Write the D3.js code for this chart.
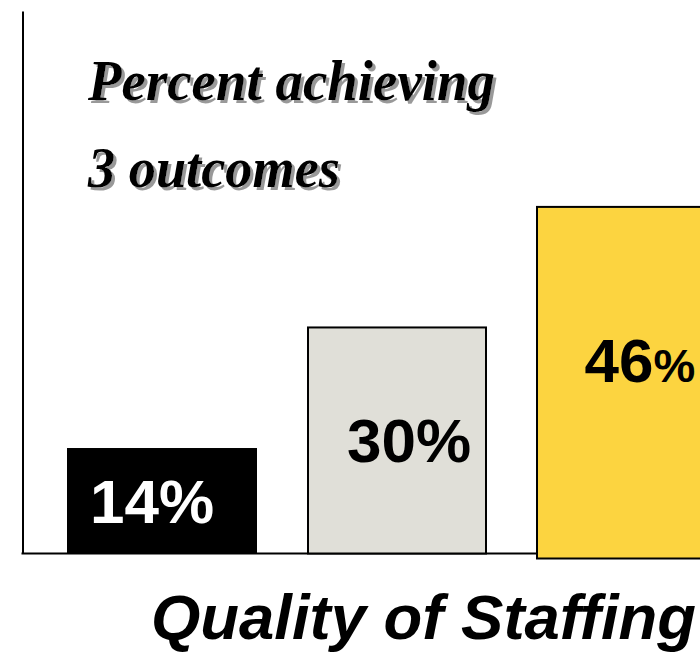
<!DOCTYPE html>
<html><head><meta charset="utf-8">
<script src="https://cdn.jsdelivr.net/npm/d3@7"></script>
<style>html,body{margin:0;padding:0;background:#fff;overflow:hidden}</style>
</head><body>
<script>
const categories = ["Low", "Medium", "High"];
const values = [14, 30, 46];
const valueLabels = ["14%", "30%", "46%"];
const titleLines = ["Percent achieving", "3 outcomes"];
const xTitle = "Quality of Staffing";

const W = 700, H = 653;
const fills = ["#000000", "#e0dfd8", "#fcd440"];
const labelColors = ["#ffffff", "#000000", "#000000"];

const svg = d3.select("body").append("svg").attr("width", W).attr("height", H);

const defs = svg.append("defs");
defs.append("filter").attr("id", "shadow").attr("x", "-5%").attr("y", "-20%").attr("width", "115%").attr("height", "150%")
  .append("feDropShadow").attr("dx", 3).attr("dy", 3).attr("stdDeviation", 0.6)
  .attr("flood-color", "#999").attr("flood-opacity", 1);

const axisX = 22.5, baseY = 553.5;
const y = d3.scaleLinear().domain([0, 72]).range([baseY, 11]);
const x = d3.scaleBand().domain(categories).range([67, 727]).paddingInner(0.1915).paddingOuter(0);

// vertical axis
const yAxis = d3.axisLeft(y).tickValues([]).tickSizeOuter(0);
svg.append("g").attr("transform", `translate(${axisX},0)`).call(yAxis)
  .call(g => g.select(".domain").attr("stroke", "#000").attr("stroke-width", 2));

// baseline
svg.append("line").attr("x1", axisX - 1).attr("x2", W).attr("y1", baseY).attr("y2", baseY)
  .attr("stroke", "#000").attr("stroke-width", 2);

// bars
const inset = [0, 6, 0];
svg.append("g").selectAll("rect").data(values).join("rect")
  .attr("x", (d, i) => x(categories[i]) + inset[i])
  .attr("y", d => y(d))
  .attr("width", (d, i) => x.bandwidth() - 2 * inset[i])
  .attr("height", (d, i) => baseY - y(d) + (i === 2 ? 5 : 0))
  .attr("fill", (d, i) => fills[i])
  .attr("stroke", "#000")
  .attr("stroke-width", (d, i) => i === 0 ? 0 : 2);

// value labels
const lbl = svg.append("g").selectAll("text").data(values).join("text")
  .attr("x", (d, i) => x(categories[i]) + x.bandwidth() / 2 + [-10, 12, 8][i])
  .attr("y", (d, i) => y(d / 2) + 22 + [0, 0, -20][i])
  .attr("text-anchor", "middle")
  .attr("font-family", "Liberation Sans, Arial, sans-serif")
  .attr("font-weight", "bold")
  .attr("font-size", 62)
  .attr("fill", (d, i) => labelColors[i]);
lbl.each(function(d, i) {
  const t = d3.select(this);
  t.append("tspan").text(valueLabels[i].replace("%", ""));
  t.append("tspan").attr("font-size", i === 2 ? 47 : 62).text("%");
});

// title with shadow
const titleX = 88, titleY = [100, 187], titleW = [407, 252];
titleLines.forEach((t, i) => {
  svg.append("text")
    .attr("x", titleX).attr("y", titleY[i])
    .attr("font-family", "Liberation Serif, serif")
    .attr("font-style", "italic").attr("font-weight", "bold")
    .attr("font-size", 56)
    .attr("textLength", titleW[i]).attr("lengthAdjust", "spacingAndGlyphs")
    .attr("filter", "url(#shadow)")
    .attr("fill", "#000").text(t);
});

// x title
svg.append("text").attr("x", 151).attr("y", 639)
  .attr("font-family", "Liberation Sans, Arial, sans-serif")
  .attr("font-style", "italic").attr("font-weight", "bold")
  .attr("font-size", 63).attr("textLength", 545).attr("lengthAdjust", "spacingAndGlyphs")
  .attr("fill", "#000").text(xTitle);
</script>
</body></html>
